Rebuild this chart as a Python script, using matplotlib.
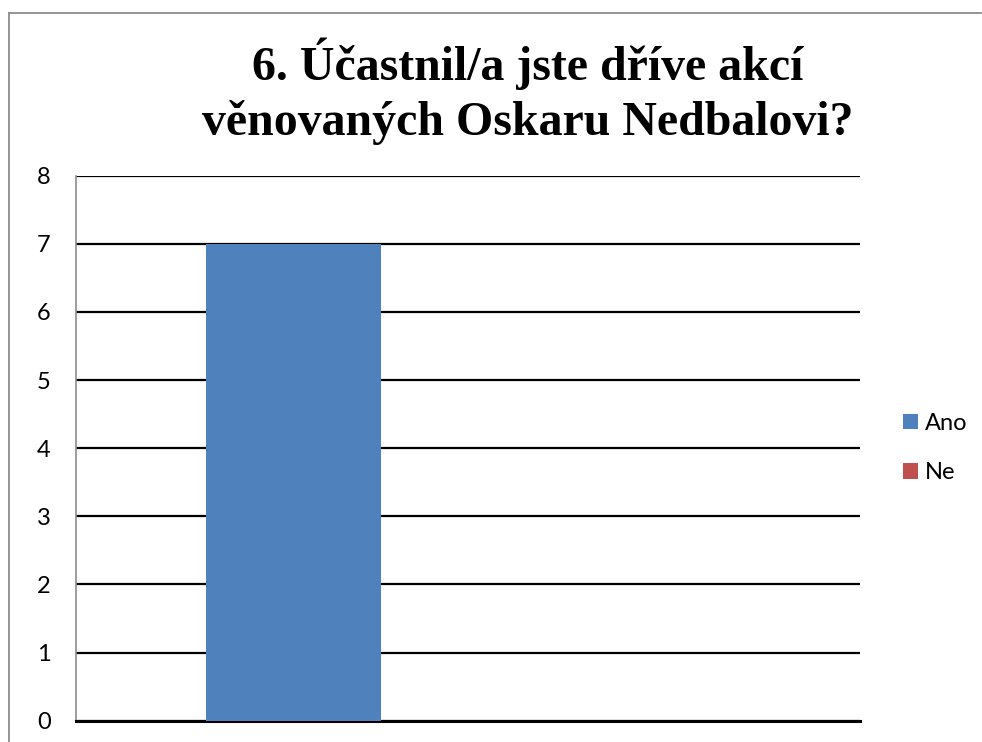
import matplotlib
matplotlib.use("Agg")
import matplotlib.pyplot as plt
from matplotlib.lines import Line2D
from matplotlib.patches import Patch

# data
series = ["Ano", "Ne"]
values = [7, 0]
colors = ["#4F81BD", "#C0504D"]
yticks = [0, 1, 2, 3, 4, 5, 6, 7, 8]
title_lines = ["6. Účastnil/a jste dříve akcí", "věnovaných Oskaru Nedbalovi?"]

W, H = 982, 742
fig = plt.figure(figsize=(W / 100, H / 100), dpi=100)

# outer chart border (gray, only left and top are visible in the crop)
fig.add_artist(Line2D([8.5 / W, 8.5 / W], [0, 1 - 13 / H], color="#8c8c8c", lw=1.3,
                      transform=fig.transFigure))
fig.add_artist(Line2D([8.5 / W, 981 / W], [1 - 13 / H, 1 - 13 / H], color="#8c8c8c", lw=1.3,
                      transform=fig.transFigure))

ax = fig.add_axes([75.7 / W, 21.3 / H, (860 - 75.7) / W, (720.7 - 175.7) / H])

bars = ax.bar(range(len(series)), values, width=1.0, color=colors, zorder=3)

ax.set_ylim(0, 8)
ax.set_yticks(yticks)
# place the clustered bars where the original puts them
ax.set_xlim(-1.243, 3.231)
ax.set_xticks([])
ax.yaxis.grid(True, color="black", lw=1.6, zorder=1)
ax.set_axisbelow(True)
for s in ["top", "right"]:
    ax.spines[s].set_visible(False)
ax.spines["bottom"].set_color("black")
ax.spines["bottom"].set_linewidth(2.2)
ax.spines["left"].set_color("#8c8c8c")
ax.spines["left"].set_linewidth(1.2)
ax.tick_params(axis="y", length=0, pad=18, labelsize=17)
for lbl in ax.get_yticklabels():
    lbl.set_family("Lato")

for i, line in enumerate(title_lines):
    fig.text(528 / W, 1 - (80 + 55 * i) / H, line, ha="center", va="baseline",
             fontsize=34.5, fontweight="bold", family="Liberation Serif")

handles = [Patch(facecolor=c, edgecolor="none", label=s) for s, c in zip(series, colors)]
fig.legend(handles=handles, loc="center left", bbox_to_anchor=(882 / W, 1 - 448 / H),
           frameon=False, prop={"family": "Lato", "size": 17},
           handlelength=0.62, handleheight=0.62, handletextpad=0.3, labelspacing=1.2)

fig.savefig("out.png", dpi=100)
